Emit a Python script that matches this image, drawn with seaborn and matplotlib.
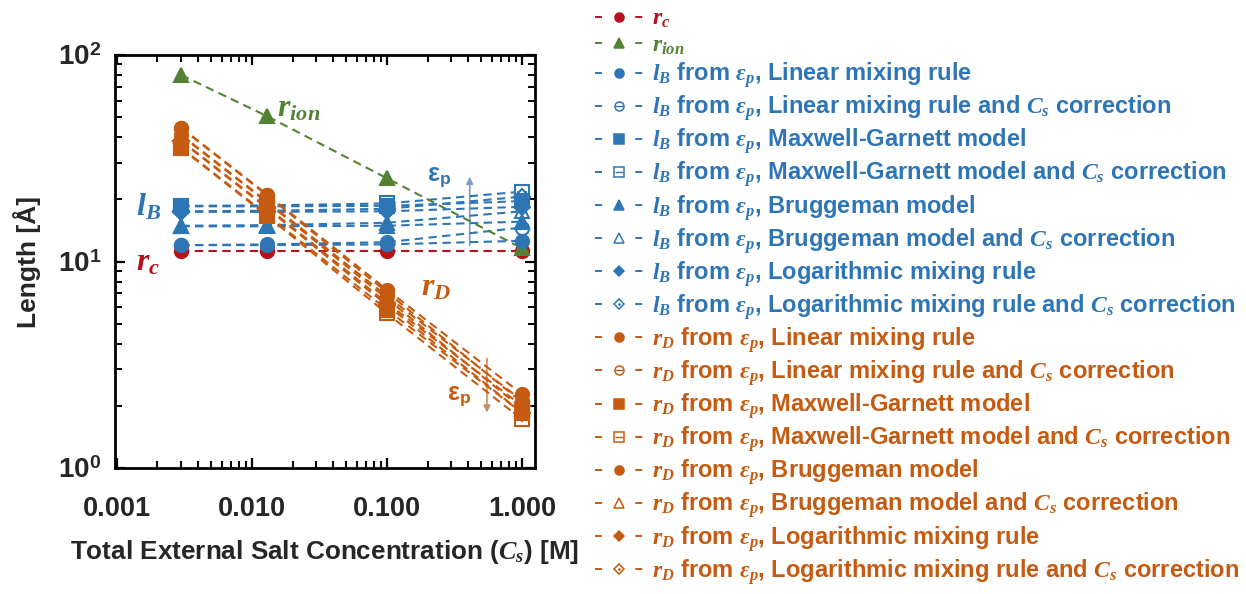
import numpy as np
import matplotlib
matplotlib.use("Agg")
import matplotlib.pyplot as plt
import matplotlib.ticker as mticker
from matplotlib.lines import Line2D
from matplotlib.legend_handler import HandlerTuple
import seaborn as sns

# ---------------- data ----------------
cs = [0.003, 0.013, 0.1, 1.0]

r_c = [11.2, 11.2, 11.2, 11.2]
r_ion = [80.0, 50.5, 25.3, 11.6]

lB_lin = [12.0, 12.0, 12.1, 12.6]
lB_lin_cs = [12.0, 12.1, 12.4, 14.6]
lB_mg = [18.5, 18.5, 18.6, 19.6]
lB_mg_cs = [18.6, 18.7, 19.1, 21.8]
lB_br = [14.8, 14.8, 14.9, 15.6]
lB_br_cs = [14.9, 15.0, 15.4, 17.5]
lB_log = [17.4, 17.4, 17.5, 18.4]
lB_log_cs = [17.5, 17.6, 18.0, 20.6]

rD_lin = [44.5, 21.1, 7.3, 2.28]
rD_lin_cs = [44.2, 20.9, 7.1, 2.08]
rD_mg = [35.6, 16.8, 5.85, 1.85]
rD_mg_cs = [35.3, 16.6, 5.6, 1.72]
rD_br = [41.0, 19.5, 6.8, 2.12]
rD_br_cs = [40.7, 19.3, 6.6, 1.94]
rD_log = [38.5, 18.3, 6.3, 2.00]
rD_log_cs = [38.2, 18.1, 6.15, 1.85]

x_ticks = [0.001, 0.01, 0.1, 1.0]
x_ticklabels = ["0.001", "0.010", "0.100", "1.000"]
y_ticks = [1, 10, 100]

RED = "#B5121B"
GREEN = "#548235"
BLUE = "#2E75B6"
ORANGE = "#C55A11"

# ---------------- style ----------------
sns.set_theme(style="ticks")
plt.rcParams["font.family"] = ["Liberation Sans", "DejaVu Sans"]
plt.rcParams["font.weight"] = "bold"
plt.rcParams["mathtext.fontset"] = "custom"
plt.rcParams["mathtext.rm"] = "Liberation Sans:bold"
plt.rcParams["mathtext.it"] = "Liberation Serif:italic"
plt.rcParams["mathtext.bf"] = "Liberation Serif:style=italic:weight=bold"

fig = plt.figure(figsize=(12.46, 5.94), dpi=100)
ax = fig.add_axes([115 / 1246, 1 - 468 / 594, 420 / 1246, 413 / 594])

DASH = (0, (4, 2.6))
LW = 1.5
MS = 9.5

# series spec: (values, color, marker, open, overlay, label)
specs = [
    (r_c, RED, "o", False, None, r"$\mathbf{r_c}$"),
    (r_ion, GREEN, "^", False, None, r"$\mathbf{r_{ion}}$"),
    (lB_lin, BLUE, "o", False, None, r"$l_B$ from $\varepsilon_p$, Linear mixing rule"),
    (lB_lin_cs, BLUE, "o", True, "_", r"$l_B$ from $\varepsilon_p$, Linear mixing rule and $C_s$ correction"),
    (lB_mg, BLUE, "s", False, None, r"$l_B$ from $\varepsilon_p$, Maxwell-Garnett model"),
    (lB_mg_cs, BLUE, "s", True, "_", r"$l_B$ from $\varepsilon_p$, Maxwell-Garnett model and $C_s$ correction"),
    (lB_br, BLUE, "^", False, None, r"$l_B$ from $\varepsilon_p$, Bruggeman model"),
    (lB_br_cs, BLUE, "^", True, None, r"$l_B$ from $\varepsilon_p$, Bruggeman model and $C_s$ correction"),
    (lB_log, BLUE, "D", False, None, r"$l_B$ from $\varepsilon_p$, Logarithmic mixing rule"),
    (lB_log_cs, BLUE, "D", True, ".", r"$l_B$ from $\varepsilon_p$, Logarithmic mixing rule and $C_s$ correction"),
    (rD_lin, ORANGE, "o", False, None, r"$r_D$ from $\varepsilon_p$, Linear mixing rule"),
    (rD_lin_cs, ORANGE, "o", True, "_", r"$r_D$ from $\varepsilon_p$, Linear mixing rule and $C_s$ correction"),
    (rD_mg, ORANGE, "s", False, None, r"$r_D$ from $\varepsilon_p$, Maxwell-Garnett model"),
    (rD_mg_cs, ORANGE, "s", True, "_", r"$r_D$ from $\varepsilon_p$, Maxwell-Garnett model and $C_s$ correction"),
    (rD_br, ORANGE, "o", False, None, r"$r_D$ from $\varepsilon_p$, Bruggeman model"),
    (rD_br_cs, ORANGE, "^", True, None, r"$r_D$ from $\varepsilon_p$, Bruggeman model and $C_s$ correction"),
    (rD_log, ORANGE, "D", False, None, r"$r_D$ from $\varepsilon_p$, Logarithmic mixing rule"),
    (rD_log_cs, ORANGE, "D", True, ".", r"$r_D$ from $\varepsilon_p$, Logarithmic mixing rule and $C_s$ correction"),
]

LEG_FS = 17
HANDLE_LEN = 2.0
LEG_LW = 1.4
L_pt = HANDLE_LEN * LEG_FS
dash_pt = 5.0
LEG_DASH = (0, (dash_pt / LEG_LW, (L_pt - 2 * dash_pt) / LEG_LW))

handles, labels = [], []
for i, (vals, col, mk, is_open, ov, lab) in enumerate(specs):
    base = 4 if col == ORANGE else 3
    z = base + (0.0 if is_open else 0.5) + i * 0.01
    ms = MS * (0.85 if mk == "D" else 1.0)
    sns.lineplot(x=cs, y=vals, ax=ax, color=col, linestyle=DASH, linewidth=LW,
                 marker=mk, markersize=ms, markerfacecolor=("white" if is_open else col),
                 markeredgecolor=col, markeredgewidth=1.5, errorbar=None,
                 sort=False, legend=False, zorder=z)
    if ov is not None:
        sns.lineplot(x=cs, y=vals, ax=ax, color=col, linestyle="", marker=ov,
                     markersize=(ms * 0.8 if ov == "_" else ms * 0.35),
                     markerfacecolor=col, markeredgecolor=col, markeredgewidth=1.3,
                     errorbar=None, sort=False, legend=False, zorder=z + 0.001)
    lms = 6.5 * (0.85 if mk == "D" else 1.0)
    h = Line2D([], [], color=col, linestyle=LEG_DASH, linewidth=LEG_LW, marker=mk,
               markersize=lms, markerfacecolor=("white" if is_open else col),
               markeredgecolor=col, markeredgewidth=1.1)
    if ov is not None:
        h2 = Line2D([], [], color=col, linestyle="", marker=ov,
                    markersize=(lms * 0.8 if ov == "_" else lms * 0.35),
                    markerfacecolor=col, markeredgecolor=col, markeredgewidth=1.0)
        h = (h, h2)
    handles.append(h)
    labels.append(lab)

# ---------------- axes ----------------
ax.set_xscale("log")
ax.set_yscale("log")
ax.set_xlim(0.00097, 1.248)
ax.set_ylim(1, 100)
ax.set_xticks(x_ticks)
ax.set_xticklabels(x_ticklabels)
ax.set_yticks(y_ticks)
ax.yaxis.set_major_formatter(mticker.FuncFormatter(
    lambda v, p: r"$10^{%d}$" % int(round(np.log10(v)))))
ax.xaxis.set_minor_locator(mticker.LogLocator(base=10, subs=np.arange(2, 10), numticks=20))
ax.yaxis.set_minor_locator(mticker.LogLocator(base=10, subs=np.arange(2, 10), numticks=20))
ax.xaxis.set_minor_formatter(mticker.NullFormatter())
ax.yaxis.set_minor_formatter(mticker.NullFormatter())
ax.tick_params(which="both", direction="in", top=True, right=True, color="black")
ax.tick_params(which="major", length=7, width=1.6)
ax.tick_params(which="minor", length=5, width=1.4)
ax.tick_params(axis="x", which="major", labelsize=19.5, pad=20)
ax.tick_params(axis="y", which="major", labelsize=20, pad=10)
for lbl in ax.get_xticklabels() + ax.get_yticklabels():
    lbl.set_fontweight("bold")
for sp in ax.spines.values():
    sp.set_linewidth(2.0)
    sp.set_color("black")
ax.set_facecolor("white")

ax.set_xlabel(r"Total External Salt Concentration ($C_s$) [M]", fontsize=18.8,
              fontweight="bold", labelpad=12)
ax.set_ylabel("Length [Å]", fontsize=19, fontweight="bold", labelpad=12)

# annotations
ax.text(0.0153, 55, r"$\mathbf{r_{ion}}$", color=GREEN, fontsize=23, ha="left", va="center")
ax.text(0.00138, 18.3, r"$\mathbf{l_B}$", color=BLUE, fontsize=23, ha="left", va="center")
ax.text(0.00138, 9.9, r"$\mathbf{r_c}$", color=RED, fontsize=23, ha="left", va="center")
ax.text(0.18, 7.5, r"$\mathbf{r_D}$", color=ORANGE, fontsize=23, ha="left", va="center")
ax.text(0.198, 25.3, r"$\mathrm{ε}_\mathrm{p}$", color=BLUE, fontsize=18, ha="left", va="center")
ax.text(0.28, 2.2, r"$\mathrm{ε}_\mathrm{p}$", color=ORANGE, fontsize=18, ha="left", va="center")
ax.annotate("", xy=(0.41, 26.5), xytext=(0.41, 11.6),
            arrowprops=dict(arrowstyle="-|>", color="#7F9CC9", lw=1.2, mutation_scale=10))
ax.annotate("", xy=(0.55, 1.8), xytext=(0.55, 3.5),
            arrowprops=dict(arrowstyle="-|>", color="#C98E62", lw=1.2, mutation_scale=10))

# ---------------- legend ----------------
leg = fig.legend(handles, labels, loc="upper left", bbox_to_anchor=(586 / 1246, 1.004),
                 frameon=False, handlelength=HANDLE_LEN, handletextpad=0.4,
                 labelspacing=0.14, borderaxespad=0.0,
                 handler_map={tuple: HandlerTuple(ndivide=1, pad=0)},
                 prop={"weight": "bold", "size": LEG_FS})
for t, (vals, col, *_rest) in zip(leg.get_texts(), specs):
    t.set_color(col)

fig.savefig("out.png", dpi=100, facecolor="white")
